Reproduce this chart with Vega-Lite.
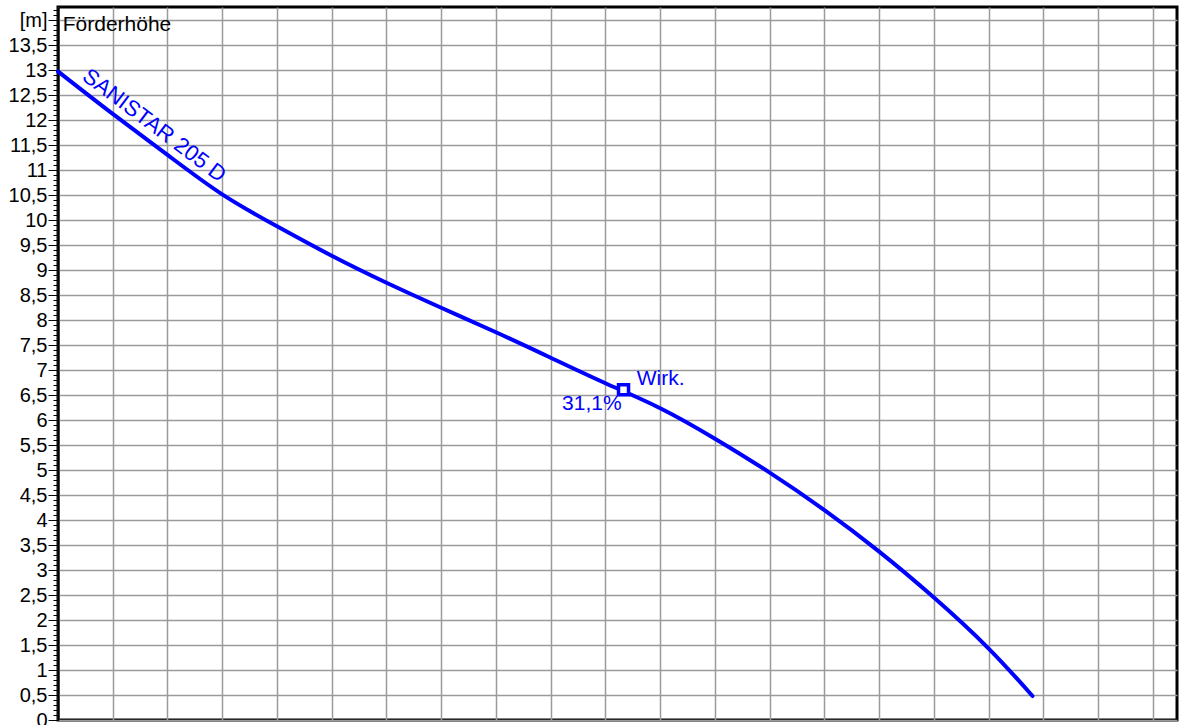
{
  "$schema": "https://vega.github.io/schema/vega-lite/v6.json",
  "width": 1119,
  "height": 713,
  "autosize": {"type": "none"},
  "padding": {"left": 58, "top": 7, "right": 2, "bottom": 5},
  "background": "white",
  "config": {
    "view": {"stroke": "black", "strokeWidth": 3},
    "font": "Liberation Sans",
    "axis": {"gridColor": "#9a9a9a", "gridWidth": 1.5, "gridOpacity": 1}
  },
  "datasets": {
    "curve": [
      {"q": 0, "h": 12.98},
      {"q": 1, "h": 12.13},
      {"q": 2, "h": 11.31},
      {"q": 3, "h": 10.52},
      {"q": 4, "h": 9.88},
      {"q": 5, "h": 9.29},
      {"q": 6, "h": 8.75},
      {"q": 7, "h": 8.25},
      {"q": 8, "h": 7.76},
      {"q": 9, "h": 7.25},
      {"q": 10, "h": 6.74},
      {"q": 11, "h": 6.24},
      {"q": 12, "h": 5.63},
      {"q": 13, "h": 4.95},
      {"q": 14, "h": 4.2},
      {"q": 15, "h": 3.37},
      {"q": 16, "h": 2.45},
      {"q": 17, "h": 1.43},
      {"q": 17.8, "h": 0.48}
    ],
    "op": [{"q": 10.33, "h": 6.61}]
  },
  "layer": [
    {
      "data": {"name": "curve"},
      "mark": {"type": "line", "color": "#0000ff", "strokeWidth": 4, "interpolate": "natural", "strokeCap": "round"},
      "encoding": {
        "x": {
          "field": "q", "type": "quantitative",
          "scale": {"domain": [0, 20.44], "nice": false, "zero": false},
          "axis": {"values": [0,1,2,3,4,5,6,7,8,9,10,11,12,13,14,15,16,17,18,19,20], "grid": true, "labels": false, "ticks": false, "domain": false, "title": null}
        },
        "y": {
          "field": "h", "type": "quantitative",
          "scale": {"domain": [0, 14.27], "nice": false},
          "axis": {
            "orient": "left",
            "values": [0,0.5,1,1.5,2,2.5,3,3.5,4,4.5,5,5.5,6,6.5,7,7.5,8,8.5,9,9.5,10,10.5,11,11.5,12,12.5,13,13.5,14],
            "labelExpr": "datum.value >= 14 ? '[m]' : replace(format(datum.value, '.1~f'), '.', ',')",
            "grid": true, "tickSize": 10, "tickColor": "black", "tickWidth": 1,
            "domainColor": "black", "domainWidth": 2,
            "labelFontSize": 20, "labelColor": "black", "labelPadding": 1,
            "labelFont": "Liberation Sans", "labelOverlap": false, "labelFlush": false,
            "title": null
          }
        }
      }
    },
    {
      "data": {"name": "op"},
      "mark": {"type": "point", "shape": "square", "size": 100, "filled": true, "fill": "white", "stroke": "#0000ff", "strokeWidth": 3.5, "opacity": 1},
      "encoding": {
        "x": {"field": "q", "type": "quantitative", "axis": null},
        "y": {
          "field": "h", "type": "quantitative",
          "axis": {
            "orient": "left",
            "values": [0,0.1,0.2,0.3,0.4,0.5,0.6,0.7,0.8,0.9,1,1.1,1.2,1.3,1.4,1.5,1.6,1.7,1.8,1.9,2,2.1,2.2,2.3,2.4,2.5,2.6,2.7,2.8,2.9,3,3.1,3.2,3.3,3.4,3.5,3.6,3.7,3.8,3.9,4,4.1,4.2,4.3,4.4,4.5,4.6,4.7,4.8,4.9,5,5.1,5.2,5.3,5.4,5.5,5.6,5.7,5.8,5.9,6,6.1,6.2,6.3,6.4,6.5,6.6,6.7,6.8,6.9,7,7.1,7.2,7.3,7.4,7.5,7.6,7.7,7.8,7.9,8,8.1,8.2,8.3,8.4,8.5,8.6,8.7,8.8,8.9,9,9.1,9.2,9.3,9.4,9.5,9.6,9.7,9.8,9.9,10,10.1,10.2,10.3,10.4,10.5,10.6,10.7,10.8,10.9,11,11.1,11.2,11.3,11.4,11.5,11.6,11.7,11.8,11.9,12,12.1,12.2,12.3,12.4,12.5,12.6,12.7,12.8,12.9,13,13.1,13.2,13.3,13.4,13.5,13.6,13.7,13.8,13.9,14,14.1,14.2],
            "labels": false, "grid": false, "domain": false,
            "tickSize": 5, "tickColor": "black", "tickWidth": 1, "title": null
          }
        }
      }
    },
    {
      "data": {"values": [{"label": "Förderhöhe", "q": 0.086, "h": 13.78}]},
      "mark": {"type": "text", "align": "left", "baseline": "alphabetic", "fontSize": 21, "color": "black", "font": "Liberation Sans"},
      "encoding": {
        "x": {"field": "q", "type": "quantitative", "axis": null},
        "y": {"field": "h", "type": "quantitative", "axis": null},
        "text": {"field": "label"}
      }
    },
    {
      "data": {"values": [{"label": "SANISTAR 205 D", "q": 1.76, "h": 11.9}]},
      "mark": {"type": "text", "align": "center", "baseline": "middle", "angle": 37, "fontSize": 22, "color": "#0000ff", "font": "Liberation Sans"},
      "encoding": {
        "x": {"field": "q", "type": "quantitative", "axis": null},
        "y": {"field": "h", "type": "quantitative", "axis": null},
        "text": {"field": "label"}
      }
    },
    {
      "data": {"values": [{"label": "Wirk.", "q": 10.57, "h": 6.71}]},
      "mark": {"type": "text", "align": "left", "baseline": "alphabetic", "fontSize": 21, "color": "#0000ff", "font": "Liberation Sans"},
      "encoding": {
        "x": {"field": "q", "type": "quantitative", "axis": null},
        "y": {"field": "h", "type": "quantitative", "axis": null},
        "text": {"field": "label"}
      }
    },
    {
      "data": {"values": [{"label": "31,1%", "q": 10.296, "h": 6.21}]},
      "mark": {"type": "text", "align": "right", "baseline": "alphabetic", "fontSize": 21, "color": "#0000ff", "font": "Liberation Sans"},
      "encoding": {
        "x": {"field": "q", "type": "quantitative", "axis": null},
        "y": {"field": "h", "type": "quantitative", "axis": null},
        "text": {"field": "label"}
      }
    }
  ],
  "resolve": {"axis": {"y": "independent", "x": "independent"}}
}
